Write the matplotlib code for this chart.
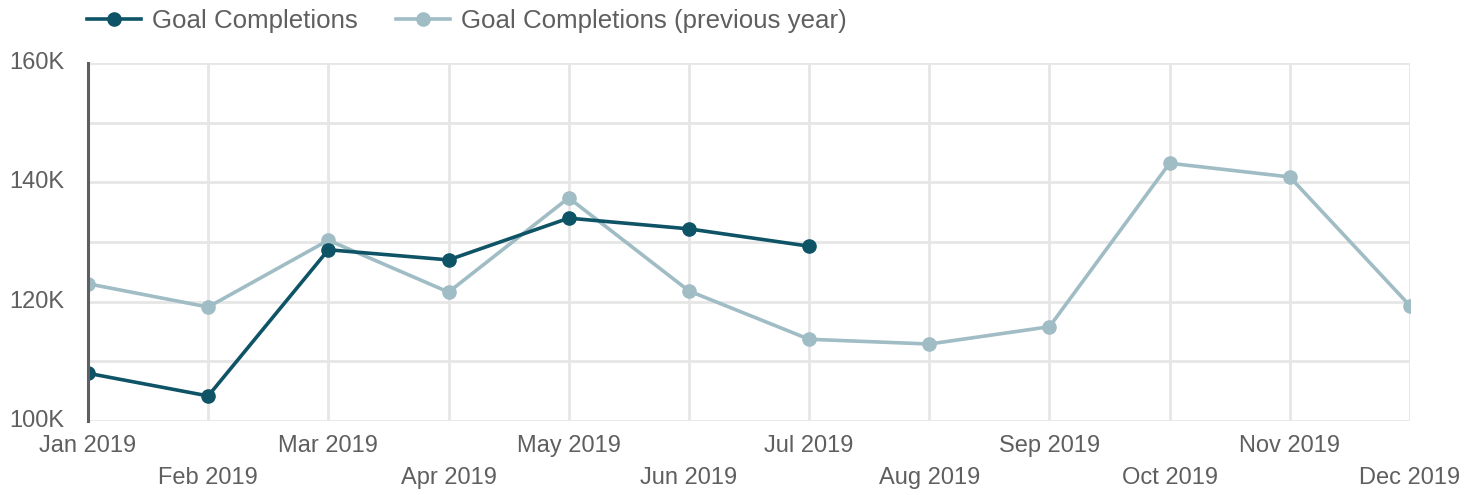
import matplotlib
matplotlib.use('Agg')
import matplotlib.pyplot as plt
import numpy as np

# data (values in K)
months = ['Jan 2019', 'Feb 2019', 'Mar 2019', 'Apr 2019', 'May 2019', 'Jun 2019',
          'Jul 2019', 'Aug 2019', 'Sep 2019', 'Oct 2019', 'Nov 2019', 'Dec 2019']
goal_current = [108.0, 104.2, 128.7, 127.0, 134.0, 132.2, 129.3]
goal_previous = [123.0, 119.1, 130.3, 121.6, 137.4, 121.8, 113.7, 112.9,
                 115.8, 143.2, 140.9, 119.3]
y_ticks = [100, 120, 140, 160]

plt.rcParams['font.family'] = ['Liberation Sans', 'DejaVu Sans']
text_col = '#5f5f5f'
dark = '#0e5466'
light = '#a0bcc4'

fig = plt.figure(figsize=(14.81, 4.95), dpi=100)
ax = fig.add_axes([88 / 1481, 1 - 421 / 495, (1410 - 88) / 1481, (421 - 63) / 495])

x = np.arange(len(months))
ax.plot(x, goal_previous, color=light, lw=2.6, marker='o', ms=9.5,
        label='Goal Completions (previous year)', zorder=3)
ax.plot(x[:len(goal_current)], goal_current, color=dark, lw=2.6, marker='o', ms=9.5,
        label='Goal Completions', zorder=4)

ax.set_xlim(0, len(months) - 1)
ax.set_ylim(100, 160)
ax.set_xticks(x)
ax.set_xticklabels([m if i % 2 == 0 else '\n' + m for i, m in enumerate(months)],
                   fontsize=17, color=text_col, linespacing=1.6)
ax.set_yticks(y_ticks)
ax.set_yticklabels([f'{v}K' for v in y_ticks], fontsize=17, color=text_col)
ax.set_yticks(np.arange(100, 161, 10), minor=True)
ax.tick_params(axis='both', which='both', length=0)
ax.tick_params(axis='x', pad=10)
ax.tick_params(axis='y', pad=17)
for lab in ax.get_yticklabels():
    lab.set_verticalalignment('center')

ax.grid(True, which='both', color='#e6e6e6', lw=2)
ax.set_axisbelow(True)
for side in ['top', 'right', 'bottom']:
    ax.spines[side].set_visible(False)
ax.spines['left'].set_color('#5f5f5f')
ax.spines['left'].set_linewidth(2.2)
ax.spines['left'].set_zorder(5)

handles, labels = ax.get_legend_handles_labels()
fig.legend(handles[::-1], labels[::-1], loc='upper left',
           bbox_to_anchor=(87 / 1481, 1 - 9 / 495),
           ncol=2, frameon=False, fontsize=18.6, labelcolor=text_col, borderpad=0,
           borderaxespad=0, handlelength=2.1, columnspacing=1.5, handletextpad=0.4)

fig.savefig('out.png', dpi=100)
